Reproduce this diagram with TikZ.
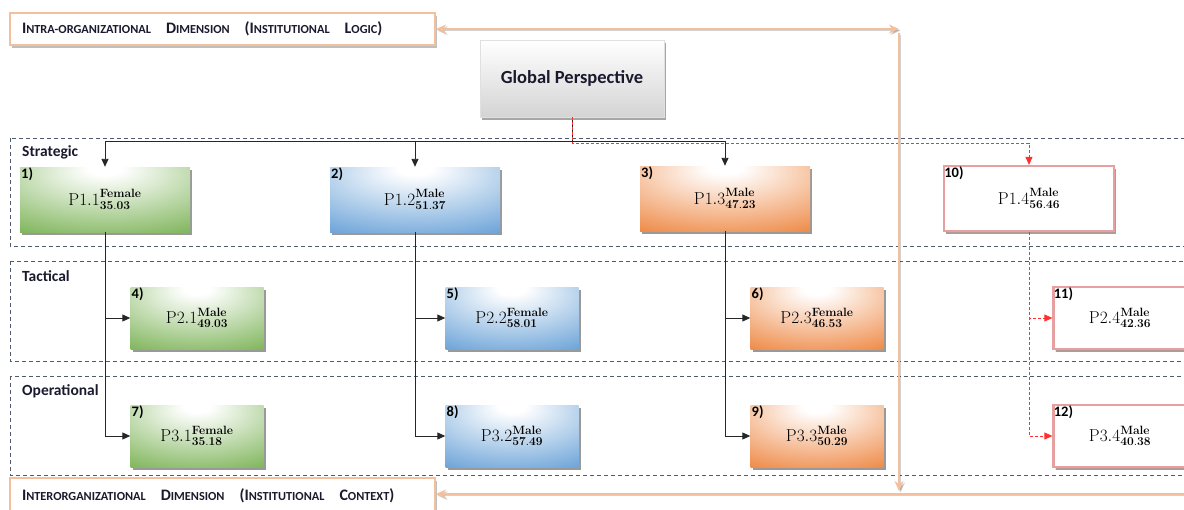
\documentclass[tikz,border=0pt]{standalone}
\usepackage[no-math]{fontspec}
\setmainfont{Carlito}
\usetikzlibrary{arrows.meta,shadows}

\definecolor{boxgreen}{HTML}{6EAB45}
\definecolor{boxblue}{HTML}{5897D3}
\definecolor{boxorange}{HTML}{EC7A2E}
\definecolor{peach}{HTML}{F6BF9B}
\definecolor{bandline}{HTML}{4F5B6E}
\definecolor{linkred}{HTML}{FF3030}
\definecolor{glowred}{HTML}{E6A0A0}
\definecolor{textdark}{HTML}{1A1A2E}

% soft "path gradient" fills: light near the top centre, full colour at the rim
\pgfdeclareradialshading{greenglow}{\pgfpoint{0bp}{25bp}}{color(0bp)=(white);color(5bp)=(white);color(52bp)=(boxgreen);color(100bp)=(boxgreen)}
\pgfdeclareradialshading{blueglow}{\pgfpoint{0bp}{25bp}}{color(0bp)=(white);color(5bp)=(white);color(52bp)=(boxblue);color(100bp)=(boxblue)}
\pgfdeclareradialshading{orangeglow}{\pgfpoint{0bp}{25bp}}{color(0bp)=(white);color(5bp)=(white);color(52bp)=(boxorange);color(100bp)=(boxorange)}

% reduced capitals for the dimension headings
\newcommand\capsm[1]{{\fontsize{12.3}{14}\selectfont #1}}
% proposition label with gender (top) and score (bottom)
\newcommand\pval[3]{$\mathrm{#1}^{\mathbf{#2}}_{\mathbf{#3}}$}

\tikzset{
  band/.style={draw=bandline, line width=0.8pt, dash pattern=on 4pt off 3pt},
  bandlbl/.style={anchor=west, inner sep=0pt, font=\fontsize{15.5}{16}\bfseries, text=textdark},
  dimbox/.style={draw=peach, line width=2pt, fill=white, minimum width=425pt, minimum height=32pt,
    text width=401pt, align=left, inner xsep=12pt, font=\fontsize{16}{16}\bfseries, text=textdark,
    drop shadow={shadow xshift=2pt, shadow yshift=-3pt, opacity=0.25, fill=black}},
  gpbox/.style={minimum width=184pt, minimum height=77pt, top color=white, bottom color=black!17,
    draw=black!12, line width=0.4pt, font=\fontsize{18.5}{20}\bfseries, text=textdark,
    drop shadow={shadow xshift=2pt, shadow yshift=-3pt, opacity=0.35, fill=black}},
  pbox/.style={minimum width=170pt, minimum height=65pt, inner sep=0pt, font=\fontsize{17}{19}\selectfont,
    drop shadow={shadow xshift=2pt, shadow yshift=-3pt, opacity=0.4, fill=black}},
  smallbox/.style={minimum width=133pt, minimum height=62pt},
  gbox/.style={pbox, shading=greenglow},
  bbox/.style={pbox, shading=blueglow},
  obox/.style={pbox, shading=orangeglow},
  wbox/.style={pbox, fill=white, draw=glowred, line width=2.2pt,
    drop shadow={shadow xshift=1.5pt, shadow yshift=-2.5pt, opacity=0.3, fill=glowred}},
  num/.style={anchor=north west, inner sep=1.2pt, font=\fontsize{14.5}{15}\bfseries, text=black},
  link/.style={draw=black!85, line width=0.9pt, -{Triangle[length=8pt,width=7pt]}},
  redlink/.style={draw=linkred, line width=0.9pt, dash pattern=on 3pt off 2pt, -{Triangle[length=8pt,width=7pt]}},
  peachlink/.style={draw=peach, line width=2.6pt,
    preaction={draw=black, opacity=0.18, transform canvas={shift={(1.5pt,-1.5pt)}}}},
  peachtip/.tip={Stealth[length=10pt,width=9pt]}
}

\begin{document}
\begin{tikzpicture}[x=1pt,y=-1pt]
\useasboundingbox (0,0) rectangle (1184,509);
\clip (0,0) rectangle (1184,509);

% decision levels
\draw[band] (10,138) rectangle (1200,246);
\draw[band] (10,261) rectangle (1200,361);
\draw[band] (10,376) rectangle (1200,475);
\node[bandlbl] (lstr) at (22,152) {Strategic};
\node[bandlbl] (ltac) at (22,276) {Tactical};
\node[bandlbl] (lope) at (22,391) {Operational};

% dimension headings
\node[dimbox] (topdim) at (222.5,29)
  {I\capsm{NTRA-ORGANIZATIONAL}\hspace{15pt}D\capsm{IMENSION}\hspace{15pt}(I\capsm{NSTITUTIONAL}\hspace{15pt}L\capsm{OGIC})};
\node[dimbox, minimum height=36pt] (botdim) at (222.5,496)
  {I\capsm{NTERORGANIZATIONAL}\hspace{15pt}D\capsm{IMENSION}\hspace{15pt}(I\capsm{NSTITUTIONAL}\hspace{15pt}C\capsm{ONTEXT})};

% root
\node[gpbox] (gp) at (572,78.5) {Global Perspective};

% strategic level
\node[gbox] (b1) at (105,199.5) {\pval{P1.1}{Female}{35.03}};
\node[bbox] (b2) at (415,199.5) {\pval{P1.2}{Male}{51.37}};
\node[obox] (b3) at (725,198.5) {\pval{P1.3}{Male}{47.23}};
\node[wbox] (b10) at (1029,198.5) {\pval{P1.4}{Male}{56.46}};

% tactical level
\node[gbox, smallbox] (b4) at (197,318) {\pval{P2.1}{Male}{49.03}};
\node[bbox, smallbox] (b5) at (512,318) {\pval{P2.2}{Female}{58.01}};
\node[obox, smallbox] (b6) at (817,318) {\pval{P2.3}{Female}{46.53}};
\node[wbox, smallbox] (b11) at (1120,318) {\pval{P2.4}{Male}{42.36}};

% operational level
\node[gbox, smallbox] (b7) at (197,436) {\pval{P3.1}{Female}{35.18}};
\node[bbox, smallbox] (b8) at (512,436) {\pval{P3.2}{Male}{57.49}};
\node[obox, smallbox] (b9) at (817,436) {\pval{P3.3}{Male}{50.29}};
\node[wbox, smallbox] (b12) at (1120,436) {\pval{P3.4}{Male}{40.38}};

% item numbers
\node[num] (n1) at (b1.north west) {1)};
\node[num] (n2) at (b2.north west) {2)};
\node[num] (n3) at (b3.north west) {3)};
\node[num] (n4) at (b4.north west) {4)};
\node[num] (n5) at (b5.north west) {5)};
\node[num] (n6) at (b6.north west) {6)};
\node[num] (n7) at (b7.north west) {7)};
\node[num] (n8) at (b8.north west) {8)};
\node[num] (n9) at (b9.north west) {9)};
\node[num] (n10) at (b10.north west) {10)};
\node[num] (n11) at (b11.north west) {11)};
\node[num] (n12) at (b12.north west) {12)};

% root to strategic level
\coordinate (split) at (572,141.5);
\coordinate (redsplit) at (572,143);
\draw[link] (gp.south) -- (split) -| (b1.north);
\draw[link] (split) -| (b2.north);
\draw[link] (split) -| (b3.north);
\draw[redlink] (gp.south) -- (redsplit) -| (b10.north);

% strategic to tactical and operational
\draw[link] (b1.south) |- (b4.west);
\draw[link] (b1.south) |- (b7.west);
\draw[link] (b2.south) |- (b5.west);
\draw[link] (b2.south) |- (b8.west);
\draw[link] (b3.south) |- (b6.west);
\draw[link] (b3.south) |- (b9.west);
\draw[redlink] (b10.south) |- (b11.west);
\draw[redlink] (b10.south) |- (b12.west);

% feedback loop between the two dimensions
\coordinate (pkTop) at (899,29);
\coordinate (pkTopV) at (899,33);
\coordinate (pkBot) at (899,491);
\coordinate (pkRight) at (1190,494);
\draw[peachlink, peachtip-peachtip] (topdim.east) -- (pkTop);
\draw[peachlink, -peachtip] (pkTopV) -- (pkBot);
\draw[peachlink, -peachtip] (pkRight) -- (botdim.east |- pkRight);
\end{tikzpicture}
\end{document}
